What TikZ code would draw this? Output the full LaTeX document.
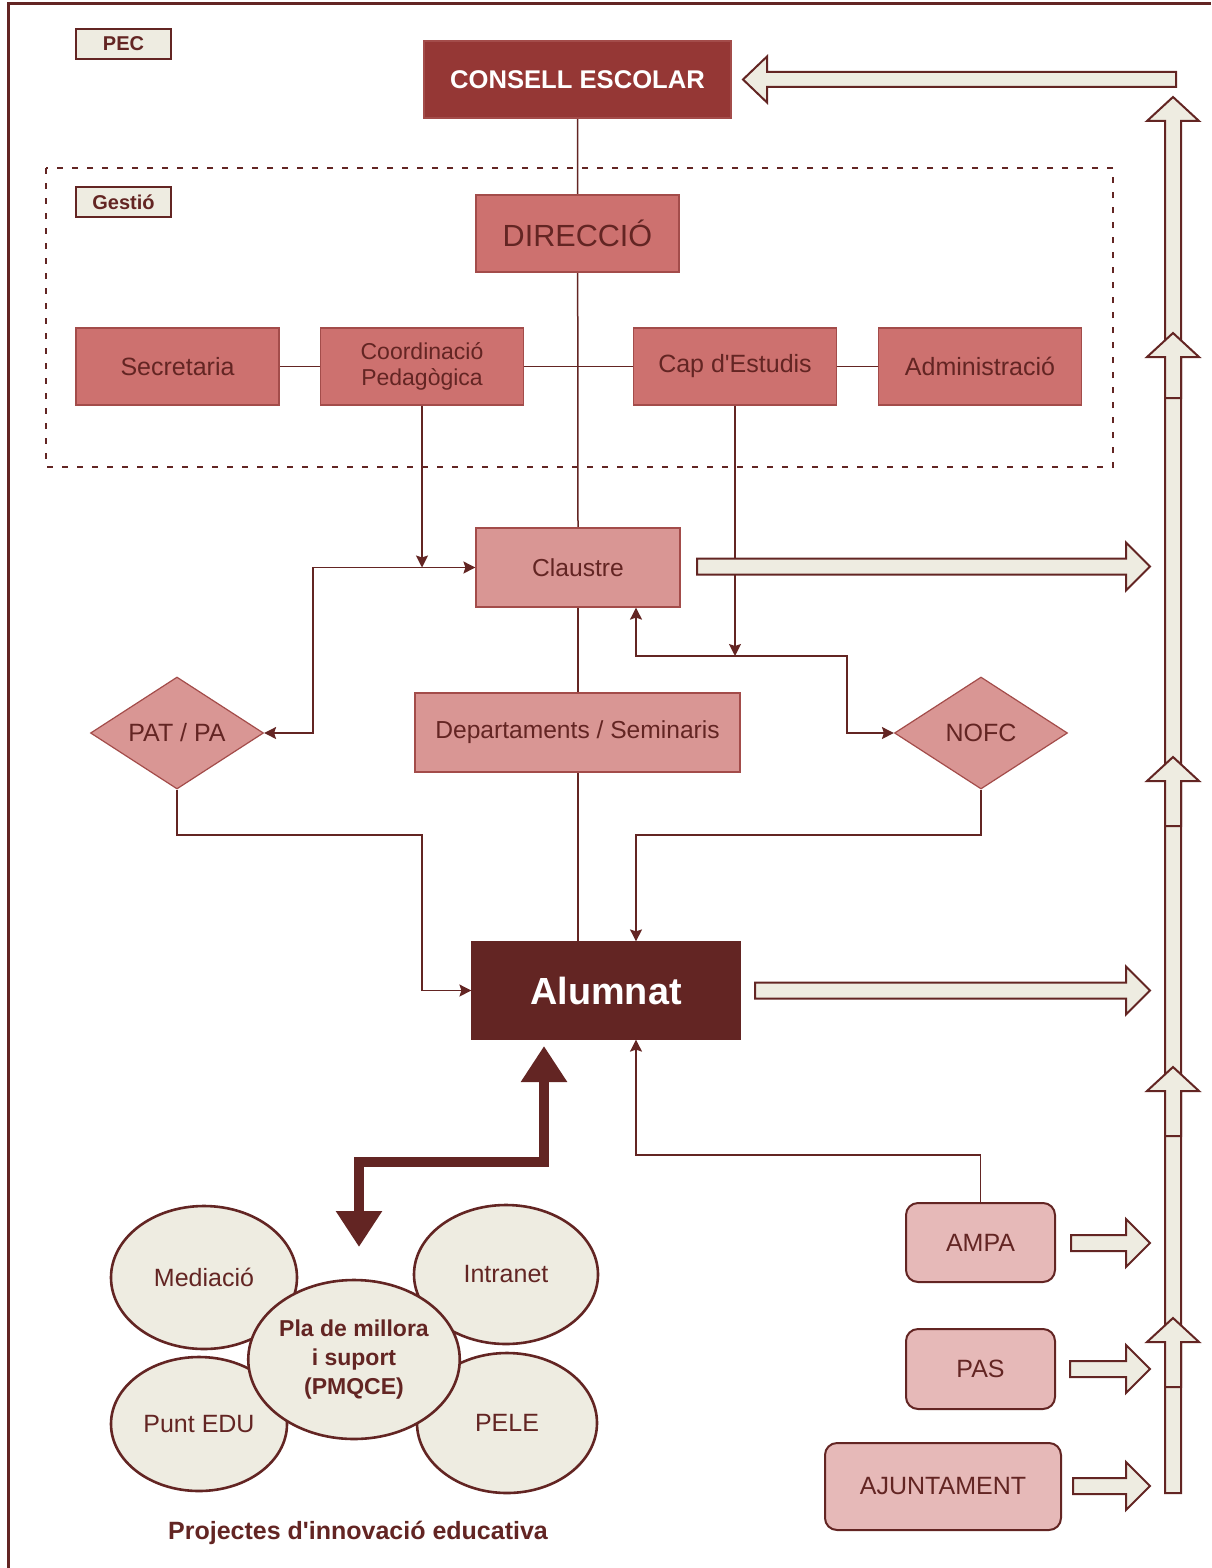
\documentclass[tikz,border=0pt]{standalone}
\usepackage{fontspec}
\setmainfont{Liberation Sans}[Ligatures=TeXOff]
\usetikzlibrary{shapes.geometric,arrows.meta}
\pgfdeclarelayer{edgelayer}
\pgfdeclarelayer{nodelayer}
\pgfsetlayers{edgelayer,nodelayer,main}
\definecolor{darkred}{HTML}{632523}
\definecolor{consellred}{HTML}{953735}
\definecolor{midred}{HTML}{CD716F}
\definecolor{lightred}{HTML}{D99694}
\definecolor{palered}{HTML}{E6B9B8}
\definecolor{cream}{HTML}{EEECE1}
\definecolor{boxline}{HTML}{A34C4A}
\tikzstyle{tag}=[rectangle, fill=cream, draw=darkred, line width=1.2pt, minimum width=47.5pt, minimum height=15pt, inner sep=0pt, text=darkred, font=\fontsize{10}{12}\selectfont\bfseries]
\tikzstyle{organ}=[rectangle, fill=midred, draw=boxline, line width=0.6pt, minimum width=101.5pt, minimum height=38.5pt, inner sep=0pt, align=center, text=darkred, font=\fontsize{12.5}{13}\selectfont]
\tikzstyle{council}=[rectangle, fill=lightred, draw=boxline, line width=0.6pt, minimum width=102pt, minimum height=39.5pt, inner sep=0pt, text=darkred, font=\fontsize{12.3}{14}\selectfont]
\tikzstyle{rule}=[diamond, fill=lightred, draw=boxline, line width=0.6pt, minimum width=86.5pt, minimum height=56pt, shape aspect=1.5, inner sep=0pt, text=darkred, font=\fontsize{12.5}{14}\selectfont]
\tikzstyle{member}=[rectangle, rounded corners=6pt, fill=palered, draw=darkred, line width=1pt, minimum width=74.5pt, minimum height=39.5pt, inner sep=0pt, text=darkred, font=\fontsize{12.5}{14}\selectfont]
\tikzstyle{project}=[ellipse, fill=cream, draw=darkred, line width=1.3pt, inner sep=0pt, text=darkred, font=\fontsize{12.5}{14}\selectfont]
\tikzstyle{link}=[-, draw=darkred, line width=0.75pt]
\tikzstyle{flow}=[link, -{Stealth[length=6pt,width=6pt,inset=1pt]}]
\tikzstyle{biflow}=[link, {Stealth[length=6pt,width=6pt,inset=1pt]}-{Stealth[length=6pt,width=6pt,inset=1pt]}]
\tikzstyle{bigflow}=[draw=darkred, line width=5pt, line join=miter, {Triangle[length=18pt,width=22pt]}-{Triangle[length=18pt,width=22pt]}]
\tikzstyle{block}=[fill=cream, draw=darkred, line width=1pt, line join=miter]
% block arrows: tail x, tip x, y  /  x, tip y, tail y
\newcommand{\blockright}[3]{\draw [style=block] (#1,#3-8) -- (#2-24,#3-8) -- (#2-24,#3-24) -- (#2,#3) -- (#2-24,#3+24) -- (#2-24,#3+8) -- (#1,#3+8) -- cycle;}
\newcommand{\blockup}[3]{\draw [style=block] (#1-8,#3) -- (#1-8,#2+24) -- (#1-26,#2+24) -- (#1,#2) -- (#1+26,#2+24) -- (#1+8,#2+24) -- (#1+8,#3) -- cycle;}

\begin{document}
\begin{tikzpicture}[x=0.5pt, y=-0.5pt]
    \useasboundingbox (0,0) rectangle (1211,1568);
    \begin{pgfonlayer}{nodelayer}
        \node [style=tag] (pec) at (123.5, 44) {PEC};
        \node [style=tag] (gestiotag) at (123.5, 202) {Gestió};
        \node [style=organ, fill=consellred, minimum width=153.5pt, text=white, font=\fontsize{12.8}{14}\selectfont\bfseries] (consell) at (577.5, 79.5) {CONSELL ESCOLAR};
        \node [style=organ, font=\fontsize{15.3}{17}\selectfont] (direccio) at (577.5, 233.5) {DIRECCIÓ};
        \node [style=organ] (secretaria) at (177.5, 366.5) {Secretaria};
        \node [style=organ, font=\fontsize{11.5}{13}\selectfont] (coord) at (422, 366.5) {Coordinació\\Pedagògica};
        \node [style=organ] (cap) at (735, 366.5) {Cap d'Estudis};
        \node [style=organ] (admin) at (980, 366.5) {Administració};
        \node [style=council] (claustre) at (578, 567.5) {Claustre};
        \node [style=council, minimum width=162.5pt] (dept) at (577.5, 732.5) {Departaments / Seminaris};
        \node [style=rule] (patpa) at (177, 733) {PAT / PA};
        \node [style=rule] (nofc) at (981, 733) {NOFC};
        \node [style=organ, fill=darkred, draw=darkred, minimum width=134pt, minimum height=48.5pt, text=white, font=\fontsize{18.9}{21}\selectfont\bfseries] (alumnat) at (606, 990.5) {Alumnat};
        \node [style=member] (ampa) at (980.5, 1242.5) {AMPA};
        \node [style=member, minimum height=40pt] (pas) at (980.5, 1369) {PAS};
        \node [style=member, minimum width=118pt, minimum height=43.5pt] (ajuntament) at (943, 1486.5) {AJUNTAMENT};

        \node [style=project, minimum width=93pt, minimum height=71.5pt] (mediacio) at (204, 1277.5) {Mediació};
        \node [style=project, minimum width=92pt, minimum height=69.5pt] (intranet) at (506, 1274.5) {Intranet};
        \node [style=project, minimum width=88pt, minimum height=67pt] (puntedu) at (199, 1424) {Punt EDU};
        \node [style=project, minimum width=90pt, minimum height=70pt] (pele) at (507, 1423) {PELE};
        \node [style=project, minimum width=102pt, minimum height=79.5pt, align=center, font=\fontsize{11.5}{14.5}\selectfont\bfseries] (pla) at (354, 1359.5) {Pla de millora\\i suport\\(PMQCE)};
        \node [text=darkred, font=\fontsize{12.5}{14}\selectfont\bfseries] (projectes) at (358, 1533) {Projectes d'innovació educativa};

        \coordinate (nofcturn) at (847, 656);
        \coordinate (patturn) at (422, 835);
        \coordinate (nofcdown) at (636, 835);
        \coordinate (ampaturn) at (636, 1155);
        \coordinate (projdown) at (359, 1247);
        \coordinate (projbend) at (544, 1162);
        \coordinate (projup) at (544, 1046);
    \end{pgfonlayer}
    \begin{pgfonlayer}{edgelayer}
        \draw [draw=darkred, line width=1.5pt] (8, 1568) -- (8, 4) -- (1211, 4);
        \draw [draw=darkred, line width=1.4pt, dash pattern=on 3pt off 4.5pt] (46, 168) rectangle (1113, 467);

        \draw [style=link] (consell.south) -- (claustre.north);
        \draw [style=link] (secretaria) -- (admin);
        \draw [style=link] (claustre.south) -- (claustre.south |- alumnat.north);
        \draw [style=flow] (coord.south) -- (coord.south |- claustre.west);
        \draw [style=flow] (cap.south) -- (cap.south |- nofcturn);
        \draw [style=biflow] (patpa.east) -- ++(49, 0) |- (claustre.west);
        \draw [style=biflow] (636, 0 |- claustre.south) |- (nofcturn) |- (nofc.west);
        \draw [style=flow] (patpa.south) |- (patturn) |- (alumnat.west);
        \draw [style=flow] (nofc.south) |- (nofcdown) -- (nofcdown |- alumnat.north);
        \draw [style=flow] (ampa.north) |- (ampaturn) -- (ampaturn |- alumnat.south);
        \draw [style=bigflow] (projdown) |- (projbend) -- (projup);
    \end{pgfonlayer}

    % big arrows on top
    \draw [style=block] (1176, 72) -- (767, 72) -- (767, 56.5) -- (743, 79.5) -- (767, 102.5) -- (767, 87) -- (1176, 87) -- cycle;
    \blockup{1173}{97}{1493}
    \blockup{1173}{333}{398}
    \blockup{1173}{757}{826}
    \blockup{1173}{1067}{1136}
    \blockup{1173}{1318}{1387}
    \blockright{697}{1150}{566.5}
    \blockright{755}{1150}{990.5}
    \blockright{1071}{1150}{1243}
    \blockright{1070}{1150}{1369}
    \blockright{1073}{1150}{1486}
\end{tikzpicture}
\end{document}
